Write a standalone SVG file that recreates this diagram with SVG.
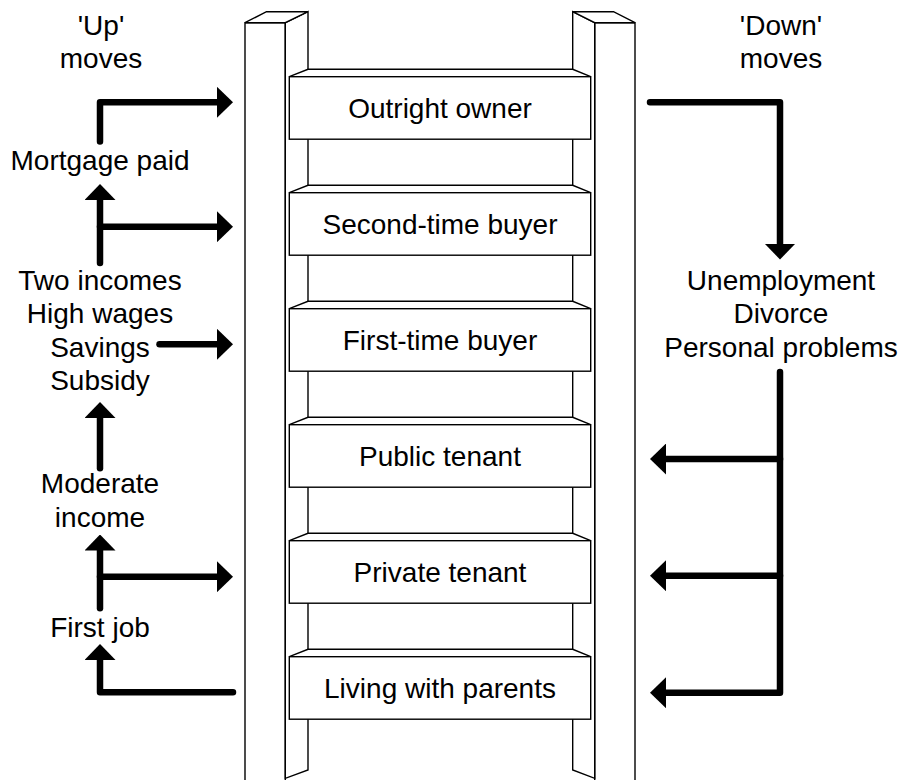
<svg xmlns="http://www.w3.org/2000/svg" width="902" height="780" viewBox="0 0 902 780">
<defs>
<style>
.ln{fill:#fff;stroke:#000;stroke-width:1.4;stroke-linejoin:miter}
.t{font-family:"Liberation Sans",Arial,sans-serif;font-size:28px;fill:#000;text-anchor:middle}
.arh{fill:none;stroke:#000;stroke-width:6.5;stroke-linecap:round;stroke-linejoin:round;marker-end:url(#ah)}
</style>
<marker id="ah" viewBox="0 0 16 31" refX="0" refY="15.5" markerWidth="16" markerHeight="31" markerUnits="userSpaceOnUse" orient="auto">
<path d="M0,0 L16,15.5 L0,31 z" fill="#000"/>
</marker>
</defs>
<rect width="902" height="780" fill="#fff"/>
<g id="rails">
<g id="rail-left">
<rect class="ln" x="245" y="22.7" width="40.3" height="770"/>
<polygon class="ln" points="285.3,22.7 308,11.7 308,770 285.3,778.3"/>
<polygon class="ln" points="245,22.7 266.5,11.7 308,11.7 285.3,22.7"/>
</g>
<g id="rail-right">
<rect class="ln" x="594.7" y="22.7" width="40.3" height="770"/>
<polygon class="ln" points="594.7,22.7 572.7,11.7 572.7,770 594.7,778.3"/>
<polygon class="ln" points="635,22.7 613.5,11.7 572.7,11.7 594.7,22.7"/>
</g>
</g>
<g id="rung1">
<polygon class="ln" points="289.3,76.7 308,69.3 572.7,69.3 590.7,76.7"/>
<rect class="ln" x="289.3" y="76.7" width="301.4" height="62.5"/>
<text class="t" x="440" y="118">Outright owner</text>
</g>
<g id="rung2">
<polygon class="ln" points="289.3,192.7 308,185.3 572.7,185.3 590.7,192.7"/>
<rect class="ln" x="289.3" y="192.7" width="301.4" height="62.5"/>
<text class="t" x="440" y="234">Second-time buyer</text>
</g>
<g id="rung3">
<polygon class="ln" points="289.3,308.7 308,301.3 572.7,301.3 590.7,308.7"/>
<rect class="ln" x="289.3" y="308.7" width="301.4" height="62.5"/>
<text class="t" x="440" y="350">First-time buyer</text>
</g>
<g id="rung4">
<polygon class="ln" points="289.3,424.7 308,417.3 572.7,417.3 590.7,424.7"/>
<rect class="ln" x="289.3" y="424.7" width="301.4" height="62.5"/>
<text class="t" x="440" y="466">Public tenant</text>
</g>
<g id="rung5">
<polygon class="ln" points="289.3,540.7 308,533.3 572.7,533.3 590.7,540.7"/>
<rect class="ln" x="289.3" y="540.7" width="301.4" height="62.5"/>
<text class="t" x="440" y="582">Private tenant</text>
</g>
<g id="rung6">
<polygon class="ln" points="289.3,656.7 308,649.3 572.7,649.3 590.7,656.7"/>
<rect class="ln" x="289.3" y="656.7" width="301.4" height="62.5"/>
<text class="t" x="440" y="698">Living with parents</text>
</g>
<g id="labels-left">
<text class="t" x="101" y="35">'Up'</text>
<text class="t" x="101" y="68">moves</text>
<text class="t" x="100" y="170">Mortgage paid</text>
<text class="t" x="100" y="290">Two incomes</text>
<text class="t" x="100" y="323.3">High wages</text>
<text class="t" x="100" y="356.6">Savings</text>
<text class="t" x="100" y="390">Subsidy</text>
<text class="t" x="100" y="493">Moderate</text>
<text class="t" x="100" y="526.5">income</text>
<text class="t" x="100" y="636.5">First job</text>
</g>
<g id="labels-right">
<text class="t" x="781" y="35">'Down'</text>
<text class="t" x="781" y="68">moves</text>
<text class="t" x="781" y="290">Unemployment</text>
<text class="t" x="781" y="323.3">Divorce</text>
<text class="t" x="781" y="356.6">Personal problems</text>
</g>
<g id="connectors">
<path class="arh" d="M100,141.5 L100,102.3 L217,102.3"/>
<path class="arh" d="M100,263 L100,200"/>
<path class="arh" d="M100,226.7 L217,226.7"/>
<path class="arh" d="M159.5,344.3 L217,344.3"/>
<path class="arh" d="M100,468.3 L100,418"/>
<path class="arh" d="M100,608.3 L100,550.5"/>
<path class="arh" d="M100,576.7 L217,576.7"/>
<path class="arh" d="M233,692.3 L100,692.3 L100,660"/>
<path class="arh" d="M650,102.3 L780,102.3 L780,243.5"/>
<path class="arh" d="M780,372 L780,692.7 L666,692.7"/>
<path class="arh" d="M780,459 L666,459"/>
<path class="arh" d="M780,575.7 L666,575.7"/>
</g>
</svg>
